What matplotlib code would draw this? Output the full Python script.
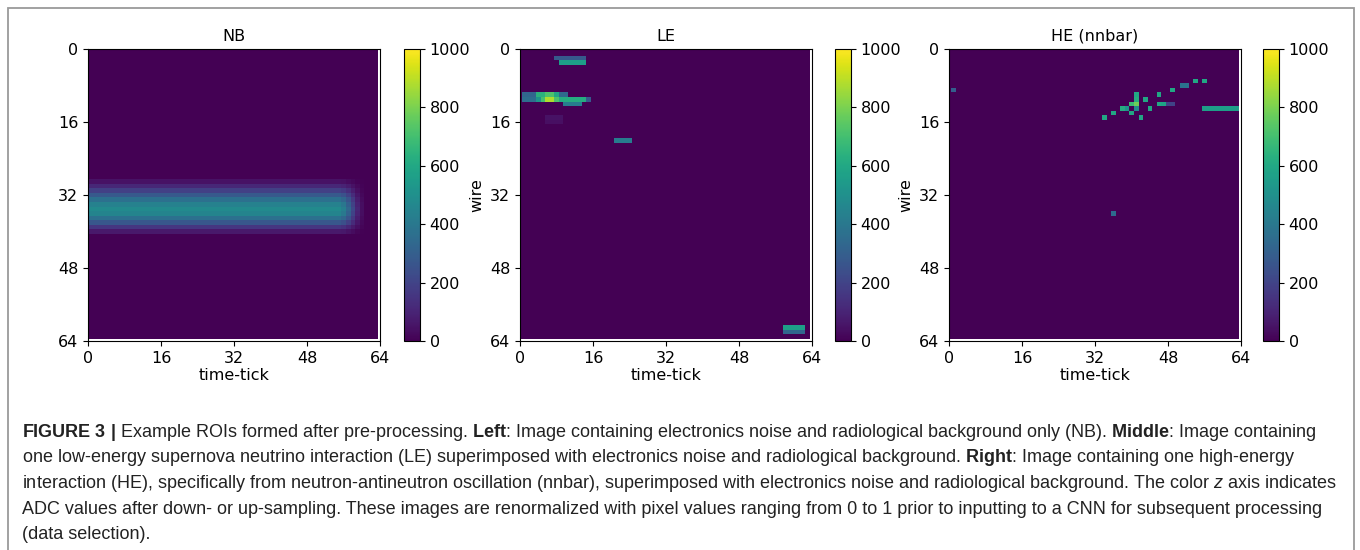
import numpy as np
import matplotlib
matplotlib.use("Agg")
import matplotlib.pyplot as plt
from matplotlib.patches import Rectangle

# ---- data (64 x 64 ROIs, ADC values) ----
size = 64
ticks = [0, 16, 32, 48, 64]
cbar_ticks = [0, 200, 400, 600, 800, 1000]
titles = ["NB", "LE", "HE (nnbar)"]

# NB: one broad band along wire ~34, fading out after time-tick ~56
nb_rows = [29, 30, 31, 32, 33, 34, 35, 36, 37, 38, 39, 40]
nb_row_vals = [50, 110, 190, 280, 370, 440, 480, 450, 370, 270, 160, 70]
nb_fade_cols = [56, 57, 58, 59, 60, 61]
nb_fade_vals = [0.9, 0.7, 0.45, 0.22, 0.08, 0.0]

# LE: horizontal segments (row, first col, last col, value)
le_row = [2, 3, 10, 10, 10, 10, 10, 11, 11, 11, 11, 11, 11, 11, 12, 15, 16, 20, 61, 62]
le_c0 = [8, 9, 1, 4, 6, 8, 9, 1, 4, 5, 6, 8, 9, 15, 10, 6, 6, 21, 58, 58]
le_c1 = [14, 14, 3, 5, 7, 8, 10, 3, 4, 5, 7, 8, 14, 15, 13, 9, 9, 24, 62, 62]
le_val = [280, 560, 330, 640, 720, 600, 340, 360, 520, 700, 880, 720, 620, 280,
          420, 50, 40, 420, 560, 330]

# HE: isolated hits and segments (row, first col, last col, value)
he_row = [9, 15, 14, 13, 13, 14, 10, 11, 12, 13, 12, 15, 11, 13, 10,
          12, 12, 12, 9, 8, 7, 7, 13, 36]
he_c0 = [1, 34, 36, 38, 39, 40, 41, 41, 41, 41, 40, 42, 43, 44, 46,
         46, 47, 48, 49, 51, 54, 56, 56, 36]
he_c1 = [1, 34, 36, 38, 39, 40, 41, 41, 41, 41, 40, 42, 43, 44, 46,
         46, 47, 49, 49, 52, 54, 56, 63, 36]
he_val = [300, 600, 600, 620, 520, 600, 600, 620, 780, 480, 680, 600, 600, 600, 600,
          600, 580, 200, 600, 380, 600, 600, 560, 350]

caption_lines = [
    r"$\mathbf{FIGURE\ 3\ |}$ Example ROIs formed after pre-processing. $\mathbf{Left}$: Image containing electronics noise and radiological background only (NB). $\mathbf{Middle}$: Image containing",
    r"one low-energy supernova neutrino interaction (LE) superimposed with electronics noise and radiological background. $\mathbf{Right}$: Image containing one high-energy",
    r"interaction (HE), specifically from neutron-antineutron oscillation (nnbar), superimposed with electronics noise and radiological background. The color $z$ axis indicates",
    r"ADC values after down- or up-sampling. These images are renormalized with pixel values ranging from 0 to 1 prior to inputting to a CNN for subsequent processing",
    r"(data selection).",
]


def segments_to_image(rows, c0, c1, vals):
    img = np.zeros((size, size))
    for r, a, b, v in zip(rows, c0, c1, vals):
        img[r, a:b + 1] = v
    return img


nb = np.zeros((size, size))
nb[nb_rows, :] = np.array(nb_row_vals)[:, None]
nb[:, nb_fade_cols[-1]:] = 0
for c, f in zip(nb_fade_cols, nb_fade_vals):
    nb[:, c] *= f
le = segments_to_image(le_row, le_c0, le_c1, le_val)
he = segments_to_image(he_row, he_c0, he_c1, he_val)
images = [nb, le, he]

# ---- figure ----
plt.rcParams["mathtext.fontset"] = "custom"
plt.rcParams["mathtext.rm"] = "Liberation Sans"
plt.rcParams["mathtext.bf"] = "Liberation Sans:bold"
plt.rcParams["mathtext.it"] = "Liberation Sans:italic"

W, H = 1360, 550
fig = plt.figure(figsize=(W / 100, H / 100), dpi=100)

ax_lefts = [88, 520, 949]
cb_lefts = [404, 835, 1263]
ax_top, ax_bot = 49, 341
fs = 11.5

for i in range(3):
    ax = fig.add_axes([ax_lefts[i] / W, 1 - ax_bot / H, 292 / W, (ax_bot - ax_top) / H])
    im = ax.imshow(images[i], cmap="viridis", vmin=0, vmax=1000, interpolation="nearest")
    ax.set_xlim(0, 64)
    ax.set_ylim(64, 0)
    ax.set_xticks(ticks)
    ax.set_yticks(ticks)
    ax.tick_params(labelsize=fs)
    ax.set_title(titles[i], fontsize=fs)
    ax.set_xlabel("time-tick", fontsize=fs, labelpad=2)
    if i > 0:
        ax.set_ylabel("wire", fontsize=fs)
    cax = fig.add_axes([cb_lefts[i] / W, 1 - ax_bot / H, 16 / W, (ax_bot - ax_top) / H])
    cb = fig.colorbar(im, cax=cax, ticks=cbar_ticks)
    cb.ax.tick_params(labelsize=fs)

# caption
y0 = 437
for k, line in enumerate(caption_lines):
    fig.text(22 / W, 1 - (y0 + 25.5 * k) / H, line, fontsize=13.0,
             family="Liberation Sans", color="#222222", va="baseline", ha="left")

# frame around the whole figure
fig.add_artist(Rectangle((7.5 / W, -0.05), (1354 - 7.5) / W, 1.05 - 8 / H,
                         transform=fig.transFigure, fill=False,
                         edgecolor="#9a9a9a", linewidth=1.3))

fig.savefig("out.png", dpi=100)
